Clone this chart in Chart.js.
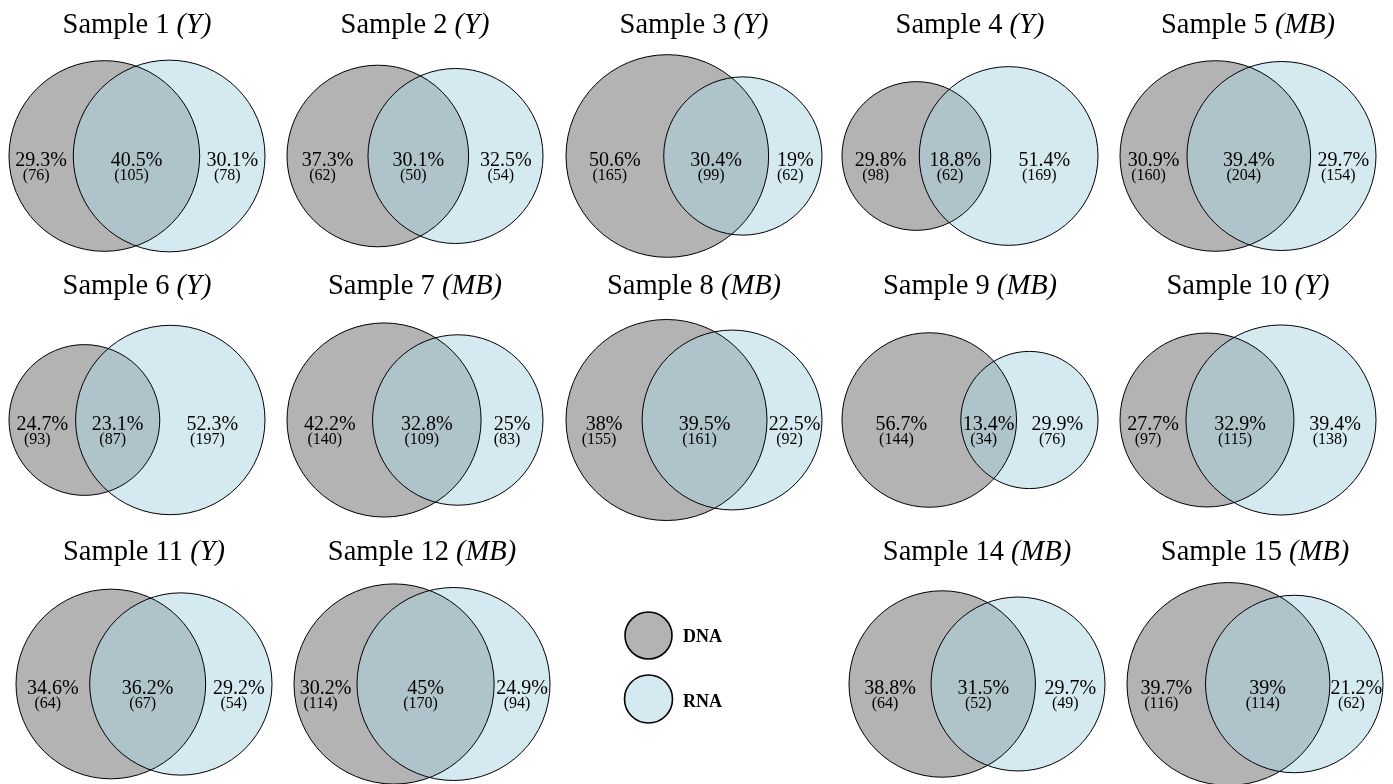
<!DOCTYPE html>
<html>
<head>
<meta charset="utf-8">
<script src="https://cdn.jsdelivr.net/npm/chart.js@4.4.1/dist/chart.umd.min.js"></script>
<style>
  html, body { margin: 0; padding: 0; background: #fff; }
  #wrap { position: relative; width: 1393px; height: 784px; }
</style>
</head>
<body>
<div id="wrap"><canvas id="venns"></canvas></div>
<script>
// values
const sampleNames = ["Sample 1", "Sample 2", "Sample 3", "Sample 4", "Sample 5",
  "Sample 6", "Sample 7", "Sample 8", "Sample 9", "Sample 10",
  "Sample 11", "Sample 12", "Sample 14", "Sample 15"];
const sampleTypes = ["Y", "Y", "Y", "Y", "MB", "Y", "MB", "MB", "MB", "Y", "Y", "MB", "MB", "MB"];
const dnaOnly = [76, 62, 165, 98, 160, 93, 140, 155, 144, 97, 64, 114, 64, 116];
const shared = [105, 50, 99, 62, 204, 87, 109, 161, 34, 115, 67, 170, 52, 114];
const rnaOnly = [78, 54, 62, 169, 154, 197, 83, 92, 76, 138, 54, 94, 49, 62];
const pctDna = ["29.3", "37.3", "50.6", "29.8", "30.9", "24.7", "42.2", "38", "56.7", "27.7", "34.6", "30.2", "38.8", "39.7"];
const pctShared = ["40.5", "30.1", "30.4", "18.8", "39.4", "23.1", "32.8", "39.5", "13.4", "32.9", "36.2", "45", "31.5", "39"];
const pctRna = ["30.1", "32.5", "19", "51.4", "29.7", "52.3", "25", "22.5", "29.9", "39.4", "29.2", "24.9", "29.7", "21.2"];
const legendLabels = ["DNA", "RNA"];

// layout of the grid (slot 12 holds the legend)
const slotCol = [0, 1, 2, 3, 4, 0, 1, 2, 3, 4, 0, 1, 3, 4];
const slotRow = [0, 0, 0, 0, 0, 1, 1, 1, 1, 1, 2, 2, 2, 2];
const colX = [137, 415, 694, 970, 1248];
const rowShift = [0, 0, 7];
const rowY = [156, 420, 684];
const titleBase = [33, 294, 560];
const DIAGRAM_WIDTH = 256;

const DNA_FILL = "rgb(179,179,179)";
const RNA_FILL = "rgba(171,213,225,0.5)";
const RNA_SOLID = "rgb(213,234,240)";
const SERIF = '"Liberation Serif", "Times New Roman", serif';

// area of the lens between two circles
function lensArea(r1, r2, d) {
  if (d >= r1 + r2) return 0;
  if (d <= Math.abs(r1 - r2)) return Math.PI * Math.min(r1, r2) ** 2;
  const a1 = Math.acos((d * d + r1 * r1 - r2 * r2) / (2 * d * r1));
  const a2 = Math.acos((d * d + r2 * r2 - r1 * r1) / (2 * d * r2));
  const k = Math.sqrt((-d + r1 + r2) * (d + r1 - r2) * (d - r1 + r2) * (d + r1 + r2));
  return r1 * r1 * a1 + r2 * r2 * a2 - 0.5 * k;
}

function solveDistance(r1, r2, target) {
  let lo = Math.abs(r1 - r2);
  let hi = r1 + r2;
  for (let i = 0; i < 60; i++) {
    const mid = (lo + hi) / 2;
    if (lensArea(r1, r2, mid) > target) lo = mid;
    else hi = mid;
  }
  return (lo + hi) / 2;
}

// area proportional circles, each diagram scaled to the same width
const geo = sampleNames.map((name, i) => {
  const r1 = Math.sqrt((dnaOnly[i] + shared[i]) / Math.PI);
  const r2 = Math.sqrt((rnaOnly[i] + shared[i]) / Math.PI);
  const d = solveDistance(r1, r2, shared[i]);
  const k = DIAGRAM_WIDTH / (r1 + d + r2);
  const mid = colX[slotCol[i]] + rowShift[slotRow[i]];
  const left = mid - DIAGRAM_WIDTH / 2;
  const cy = rowY[slotRow[i]];
  return {
    mid: mid,
    row: slotRow[i],
    dna: { x: left + r1 * k, y: cy, rad: r1 * k },
    rna: { x: left + (r1 + d) * k, y: cy, rad: r2 * k },
  };
});

const labelPlugin = {
  id: "vennLabels",
  afterDatasetsDraw(chart) {
    const { ctx, scales: { x, y } } = chart;
    ctx.save();
    ctx.fillStyle = "#000";
    ctx.textBaseline = "alphabetic";

    geo.forEach((g, i) => {
      // title: plain name + italic type
      const head = sampleNames[i] + " ";
      const tail = "(" + sampleTypes[i] + ")";
      ctx.font = "28.5px " + SERIF;
      const w1 = ctx.measureText(head).width;
      ctx.font = "italic 28.5px " + SERIF;
      const w2 = ctx.measureText(tail).width;
      const tx = x.getPixelForValue(g.mid) - (w1 + w2) / 2;
      const ty = y.getPixelForValue(titleBase[g.row]);
      ctx.textAlign = "left";
      ctx.font = "28.5px " + SERIF;
      ctx.fillText(head, tx, ty);
      ctx.font = "italic 28.5px " + SERIF;
      ctx.fillText(tail, tx + w1, ty);

      // region labels in the middle of each region
      const dnaL = g.dna.x - g.dna.rad;
      const dnaR = g.dna.x + g.dna.rad;
      const rnaL = g.rna.x - g.rna.rad;
      const rnaR = g.rna.x + g.rna.rad;
      const spots = [
        [(dnaL + rnaL) / 2, pctDna[i], dnaOnly[i]],
        [(rnaL + dnaR) / 2, pctShared[i], shared[i]],
        [(dnaR + rnaR) / 2, pctRna[i], rnaOnly[i]],
      ];
      const py = y.getPixelForValue(g.dna.y + 9.5);
      const cy = y.getPixelForValue(g.dna.y + 24);
      ctx.textAlign = "center";
      spots.forEach(([sx, pct, n]) => {
        const px = x.getPixelForValue(sx);
        ctx.font = "20px " + SERIF;
        ctx.fillText(pct + "%", px, py);
        ctx.font = "16px " + SERIF;
        ctx.fillText("(" + n + ")", px - 5, cy);
      });
    });

    // legend
    const keys = [
      { cx: 648.5, cy: 635.5, r: 23.5, fill: DNA_FILL, ty: 641.5 },
      { cx: 648.5, cy: 699, r: 24, fill: RNA_SOLID, ty: 706.5 },
    ];
    keys.forEach((k, j) => {
      const px = x.getPixelForValue(k.cx);
      const py = y.getPixelForValue(k.cy);
      const pr = Math.abs(x.getPixelForValue(k.r) - x.getPixelForValue(0));
      ctx.beginPath();
      ctx.arc(px, py, pr, 0, Math.PI * 2);
      ctx.fillStyle = k.fill;
      ctx.fill();
      ctx.lineWidth = 1.6;
      ctx.strokeStyle = "#000";
      ctx.stroke();
      ctx.fillStyle = "#000";
      ctx.textAlign = "left";
      ctx.font = "bold 18px " + SERIF;
      ctx.fillText(legendLabels[j], x.getPixelForValue(683), y.getPixelForValue(k.ty));
    });
    ctx.restore();
  },
};

const dnaPoints = geo.map((g) => Object.assign({}, g.dna));
const rnaPoints = geo.map((g) => Object.assign({}, g.rna));
const outlinePoints = dnaPoints.concat(rnaPoints).map((p) => Object.assign({}, p));

const chart = new Chart(document.getElementById("venns"), {
  type: "bubble",
  data: {
    datasets: [
      {
        label: "outline",
        data: outlinePoints,
        backgroundColor: "rgba(0,0,0,0)",
        borderColor: "#000",
        borderWidth: 1,
        order: 0,
      },
      {
        label: "RNA",
        data: rnaPoints,
        backgroundColor: RNA_FILL,
        borderColor: "rgba(0,0,0,0)",
        borderWidth: 0,
        order: 1,
      },
      {
        label: "DNA",
        data: dnaPoints,
        backgroundColor: DNA_FILL,
        borderColor: "rgba(0,0,0,0)",
        borderWidth: 0,
        order: 2,
      },
    ],
  },
  options: {
    responsive: true,
    maintainAspectRatio: false,
    animation: false,
    events: [],
    clip: false,
    layout: { padding: 0, autoPadding: false },
    elements: {
      point: { hoverRadius: 0, hitRadius: 0 },
    },
    plugins: {
      legend: { display: false },
      tooltip: { enabled: false },
      title: { display: false },
    },
    scales: {
      x: { type: "linear", min: 0, max: 1393, display: false },
      y: { type: "linear", min: 0, max: 784, reverse: true, display: false },
    },
  },
  plugins: [labelPlugin],
});

// bubble radii are in pixels: convert the circle sizes through the x scale
function syncRadius() {
  const s = chart.scales.x;
  chart.data.datasets.forEach((ds) => {
    ds.data.forEach((p) => {
      p.r = Math.abs(s.getPixelForValue(p.rad) - s.getPixelForValue(0));
    });
  });
  chart.update("none");
}
syncRadius();
</script>
</body>
</html>
